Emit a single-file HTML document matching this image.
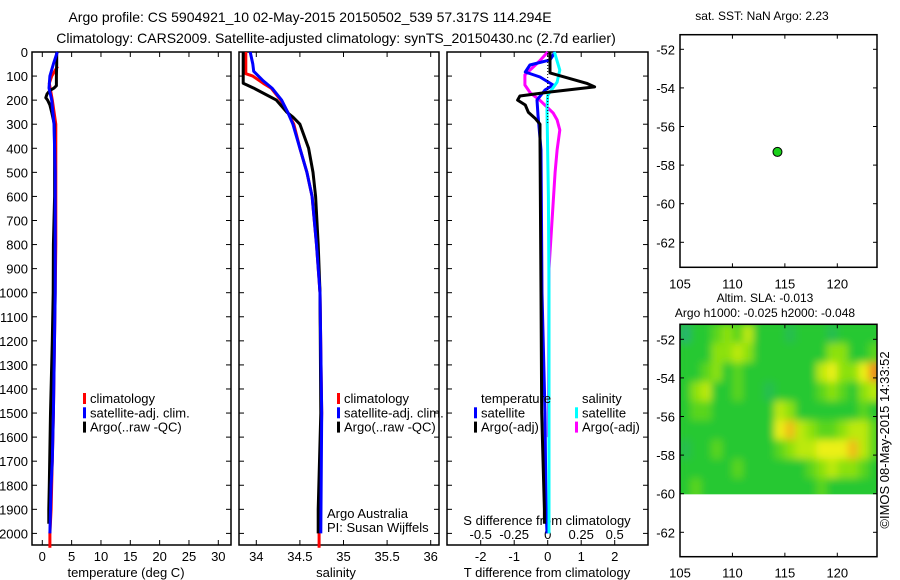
<!DOCTYPE html>
<html><head><meta charset="utf-8"><style>
body{margin:0;background:#fff;width:900px;height:580px;overflow:hidden}
svg{display:block;font-family:"Liberation Sans",sans-serif}
</style></head><body>
<svg id="c" width="900" height="580" viewBox="0 0 900 580">
<defs>
<filter id="blur" x="-5%" y="-5%" width="110%" height="110%"><feGaussianBlur stdDeviation="4"/></filter>
<clipPath id="hclip"><rect x="680" y="324.3" width="197" height="170"/></clipPath>
</defs>
</svg>
<script>
// ---- data ----
const depthTicks=[0,100,200,300,400,500,600,700,800,900,1000,1100,1200,1300,1400,1500,1600,1700,1800,1900,2000];
const tempTicks=[0,5,10,15,20,25,30];
const salTicks=[34,34.5,35,35.5,36];
const tdiffTicks=[-2,-1,0,1,2];
const sdiffTicks=[-0.5,-0.25,0,0.25,0.5];
const sdiffLabels=["-0.5","-0.25","0","0.25","0.5"];
const lonTicks=[105,110,115,120];
const latTicks=[-52,-54,-56,-58,-60,-62];

const argoTDepth=[0,50,100,140,150,160,175,190,200,220,250,300,400,600,800,1000,1200,1500,1800,1900,1960];
const argoT=[2.45,2.45,2.4,2.4,2.0,1.3,0.8,0.6,0.9,1.3,1.6,2.05,2.1,2.1,1.9,1.85,1.7,1.4,1.2,1.1,1.1];
const satTDepth=[0,50,100,150,200,300,500,1000,1500,1700,1800,2000];
const satT=[2.55,1.9,1.3,1.15,1.6,2.0,2.2,2.2,1.9,1.7,1.5,1.3];
const climTDepth=[60,100,130,200,300,800,1000,1500,1900,2000,2060];
const climT=[2.6,1.6,1.2,1.7,2.3,2.3,2.2,1.9,1.5,1.3,1.3];

const argoSDepth=[0,130,150,200,250,270,300,400,500,600,800,1000,1500,1900,2000];
const argoS=[33.85,33.85,33.97,34.23,34.35,34.42,34.5,34.6,34.65,34.68,34.71,34.73,34.74,34.71,34.71];
const satSDepth=[0,50,80,120,150,200,250,300,400,500,600,800,1000,1500,2000];
const satS=[33.93,33.96,33.97,34.08,34.18,34.29,34.36,34.42,34.5,34.58,34.64,34.69,34.73,34.75,34.74];
const climSDepth=[0,90,100,130,150,200,250,300,400,500,600,800,1000,1500,2000,2060];
const climS=[33.88,33.88,33.96,34.08,34.17,34.28,34.36,34.43,34.5,34.58,34.64,34.69,34.73,34.75,34.72,34.72];

const argoTdDepth=[0,87,130,145,166,183,200,220,250,275,300,365,1000,1500,1900,1960];
const argoTd=[0.07,0.07,1.16,1.4,0.07,-0.83,-0.9,-0.67,-0.58,-0.38,-0.23,-0.23,-0.2,-0.18,-0.1,-0.1];
const satTdDepth=[0,33,54,83,104,137,158,200,262,407,1000,1500,1900,2000];
const satTd=[0.22,0.07,-0.53,-0.67,-0.23,0.16,-0.08,-0.32,-0.29,-0.2,-0.17,-0.08,-0.05,-0.02];
const argoSdDepth=[0,37,95,137,170,200,253,282,324,407,500,900,1600];
const argoSd=[0,-0.06,-0.17,-0.17,-0.13,-0.06,0.04,0.07,0.09,0.07,0.055,0.01,0.005];
const satSdDepth=[0,75,125,180,240,600,1000,1650,2000];
const satSd=[0.05,0.09,0.07,0,-0.005,0.005,0.01,0.01,0.01];

const argoLon=114.294, argoLat=-57.317;
const slaLats=[-51.2,-52.2,-53.2,-54.2,-55.2,-56.2,-57.2,-58.2,-59.2];
const slaLons=[105,106,107,108,109,110,111,112,113,114,115,116,117,118,119,120,121,122,123];
const sla0=[-1,0,0,0.5,1,0.5,1.5,0,0,0,-0.5,0,0,0,-0.5,0,0,0,0];
const sla1=[0,0,0,1,1,1.5,1,0,0,0,0,0,0,0,1,1,0,0,0.5];
const sla2=[0,0,0.5,1,0,0.5,0,0,0,0,0,0,0,1.5,2,1,1,2,3];
const sla3=[0,1,1.5,0,0,0.5,0,0,-0.5,0,0,0,0,0.5,1,0.5,0,1,1.5];
const sla4=[0,0.5,0.5,0,0,0,0,0,0,1.5,1,0,0,0,0,0,0,0.5,0];
const sla5=[0,0,0,0,0,0,0,0,0,2,2.5,1.5,1,0.5,0.5,1,1.5,1.5,0.5];
const sla6=[-0.5,0,0,0.5,0,0,0,0,0,0.5,1,1.5,1.5,2,2,2,2.5,1.5,0.5];
const sla7=[0,0,0,0,0,0.5,0,0,0,0,0,0,0.5,1,1.5,1,1,0.5,0];
const sla8=[0,0.5,0,0,0,0,0,0,0,0,0,0,0,0.5,0,0,0,0,0];
const slaRows=[sla0,sla1,sla2,sla3,sla4,sla5,sla6,sla7,sla8];

// ---- helpers ----
const svg=document.getElementById('c');
const NS='http://www.w3.org/2000/svg';
function el(tag,attrs,parent){const e=document.createElementNS(NS,tag);for(const k in attrs)e.setAttribute(k,attrs[k]);(parent||svg).appendChild(e);return e;}
function txt(x,y,s,anchor,size,parent){const t=el('text',{x:x,y:y,'text-anchor':anchor||'middle','font-size':size||13,fill:'#000'},parent);t.textContent=s;return t;}
const Y=d=>52+d*0.2407;
const lin=(v0,p0,v1,p1)=>v=>p0+(v-v0)*(p1-p0)/(v1-v0);
const Xt=lin(0,42.3,30,218.3);
const Xs=lin(34,256.3,36,430.7);
const Xtd=lin(0,547.7,2,614.7);
const Xsd=lin(0,547.7,0.5,614.7);
const Lx=lin(105,680,120,837.3);
const Ly=lin(-52,339.3,-62,532.3);
const Ly1=lin(-52,49.3,-62,242.3);

function frame(x0,y0,x1,y1,name){
  const r=el('rect',{x:x0,y:y0,width:x1-x0,height:y1-y0,fill:'none',stroke:'#000','stroke-width':1.5});
  
}
function line(xs,ds,fx,color,name,g){
  const pts=xs.map((v,i)=>fx(v).toFixed(1)+','+Y(ds[i]).toFixed(1)).join(' ');
  const p=el('polyline',{points:pts,fill:'none',stroke:color,'stroke-width':3,'stroke-linejoin':'round'},g);
  
}

// titles
let t=txt(310,22,'Argo profile: CS 5904921_10 02-May-2015 20150502_539 57.317S 114.294E','middle',14);

t=txt(336,43,'Climatology: CARS2009. Satellite-adjusted climatology: synTS_20150430.nc (2.7d earlier)','middle',14);


// panel frames and depth ticks
const panels=[[32,231,'temperature-panel'],[239,439,'salinity-panel'],[447,648,'difference-panel']];
panels.forEach(([x0,x1,n])=>{
  frame(x0,52,x1,545,n);
  depthTicks.forEach(d=>{el('line',{x1:x0,x2:x0+5,y1:Y(d),y2:Y(d),stroke:'#000'});el('line',{x1:x1,x2:x1-5,y1:Y(d),y2:Y(d),stroke:'#000'});});
});
depthTicks.forEach(d=>{const l=txt(28,Y(d)+5,String(d),'end',13);});
function xticks(ticks,labels,fx,yb,ly){
  ticks.forEach((v,i)=>{const x=fx(v);el('line',{x1:x,x2:x,y1:yb,y2:yb-5,stroke:'#000'});el('line',{x1:x,x2:x,y1:52,y2:57,stroke:'#000'});
    if(ly){const l=txt(x,ly,labels[i],'middle',13);}});
}
xticks(tempTicks,tempTicks.map(String),Xt,545,561);
xticks(salTicks,salTicks.map(String),Xs,545,561);
xticks(tdiffTicks,tdiffTicks.map(String),Xtd,545,561);
sdiffTicks.forEach((v,i)=>{const l=txt(Xsd(v),539,sdiffLabels[i],'middle',13);});
t=txt(126,577,'temperature (deg C)');
t=txt(336,577,'salinity');
t=txt(547,577,'T difference from climatology');
t=txt(547,525,'S difference from climatology');

// profiles
const g1=el('g',{});
line(climT,climTDepth,Xt,'#f00','temp-climatology-line',g1);
line(argoT,argoTDepth,Xt,'#000','temp-argo-line',g1);
line(satT,satTDepth,Xt,'#00f','temp-satellite-line',g1);
line(climS,climSDepth,Xs,'#f00','sal-climatology-line',g1);
line(argoS,argoSDepth,Xs,'#000','sal-argo-line',g1);
line(satS,satSDepth,Xs,'#00f','sal-satellite-line',g1);
el('line',{x1:547.7,x2:547.7,y1:53,y2:Y(300),stroke:'#000','stroke-dasharray':'1 2'});
line(argoSd,argoSdDepth,Xsd,'#f0f','s-diff-argo-line',g1);
line(satTd,satTdDepth,Xtd,'#00f','t-diff-satellite-line',g1);
line(satSd,satSdDepth,Xsd,'#0ff','s-diff-satellite-line',g1);
line(argoTd,argoTdDepth,Xtd,'#000','t-diff-argo-line',g1);

// legends
function legend(x,y,items,name){
  const g=el('g',{});
  items.forEach(([c,s],i)=>{const yy=y+i*14.3;if(c)el('rect',{x:x,y:yy-10,width:3,height:11,fill:c},g);txt(x+7,yy,s,'start',13,g);});
}
legend(83,403,[['#f00','climatology'],['#00f','satellite-adj. clim.'],['#000','Argo(..raw -QC)']],'temperature-legend');
legend(337,403,[['#f00','climatology'],['#00f','satellite-adj. clim.'],['#000','Argo(..raw -QC)']],'salinity-legend');
legend(474,403,[[null,' temperature'],['#00f','satellite'],['#000','Argo(-adj)']],'t-diff-legend');
legend(575,403,[[null,'  salinity'],['#0ff','satellite'],['#f0f','Argo(-adj)']],'s-diff-legend');
t=txt(327,518,'Argo Australia','start',13);
t=txt(327,532,'PI: Susan Wijffels','start',13);

// maps
function mapAxes(y0,y1,fy,name){
  frame(680,y0,877,y1,name);
  lonTicks.forEach(v=>{const x=Lx(v);el('line',{x1:x,x2:x,y1:y1,y2:y1-4,stroke:'#000'});el('line',{x1:x,x2:x,y1:y0,y2:y0+4,stroke:'#000'});
    const l=txt(x,y1+21,String(v),'middle',13);});
  latTicks.forEach(v=>{const y=fy(v);el('line',{x1:680,x2:684,y1:y,y2:y,stroke:'#000'});el('line',{x1:877,x2:873,y1:y,y2:y,stroke:'#000'});
    const l=txt(675,y+5,String(v),'end',13);});
}
t=txt(762,20,'sat. SST: NaN Argo: 2.23','middle',12);
mapAxes(34.7,267.3,Ly1,'sst-map');
const dot=el('circle',{cx:Lx(argoLon),cy:Ly1(argoLat),r:4.5,fill:'#1ad01a',stroke:'#000','stroke-width':1});


function slaColor(v){
  const stops=[[-1,[40,180,110]],[0,[40,200,50]],[1,[140,225,10]],[2,[235,240,20]],[3,[240,140,30]]];
  v=Math.max(-1,Math.min(3,v));
  for(let i=0;i<stops.length-1;i++){const [a,ca]=stops[i],[b,cb]=stops[i+1];if(v<=b){const f=(v-a)/(b-a);return 'rgb('+ca.map((c,k)=>Math.round(c+(cb[k]-c)*f)).join(',')+')';}}
}
const hc=el('g',{'clip-path':'url(#hclip)'});
el('rect',{x:680,y:324.3,width:197,height:170,fill:'rgb(40,200,50)'},hc);
const hg=el('g',{filter:'url(#blur)'},hc);
slaRows.forEach((row,r)=>{row.forEach((v,c)=>{
  const x0=Lx(slaLons[c]),x1=Lx(slaLons[c]+1.2),y0=Ly(slaLats[r]),y1=Ly(slaLats[r]-1.2);
  const cell=el('rect',{x:x0,y:y0,width:x1-x0,height:y1-y0,fill:slaColor(v)},hg);
  
  
});});
mapAxes(324.3,556.7,Ly,'sla-map');
t=txt(765,302,'Altim. SLA: -0.013','middle',12);
t=txt(765,317,'Argo h1000: -0.025 h2000: -0.048','middle',12);
t=txt(0,0,'©IMOS 08-May-2015 14:33:52','middle',13);t.setAttribute('transform','translate(889,440) rotate(-90)');

</script>
</body></html>
